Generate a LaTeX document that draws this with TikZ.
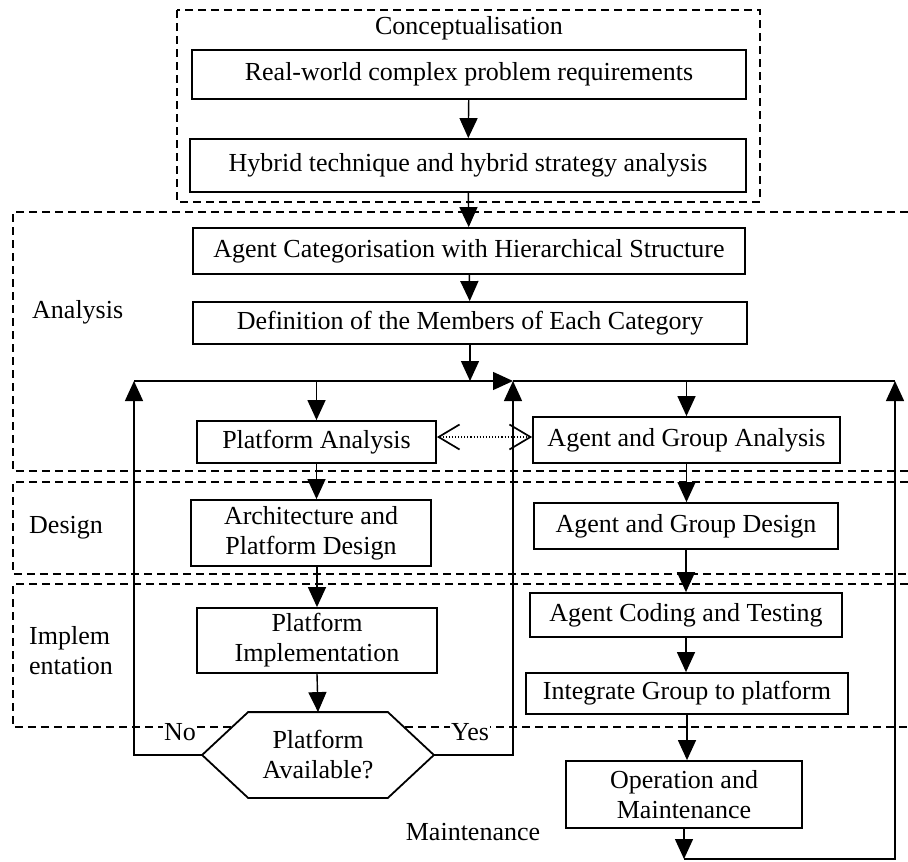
\documentclass[tikz,border=0pt]{standalone}
\usepackage{fontspec}
\setmainfont{Liberation Serif}
\usetikzlibrary{arrows.meta,backgrounds}

\tikzset{
  stepbox/.style={draw, line width=1.8pt, fill=white, inner sep=0pt, align=center,
    font=\fontsize{26}{30}\selectfont},
  lbl/.style={inner sep=1pt, align=left, font=\fontsize{26}{30}\selectfont},
  frame/.style={line width=1.4pt, dash pattern=on 8pt off 5pt},
  flow/.style={line width=1.4pt, -{Triangle[length=20pt,width=18pt]}},
  wire/.style={line width=1.4pt},
  peer/.style={line width=1.1pt, dotted,
    {Straight Barb[length=21pt,width=25pt,line width=1.7pt]}-{Straight Barb[length=21pt,width=25pt,line width=1.7pt]}},
}

\begin{document}
\begin{tikzpicture}[x=1pt,y=-1pt]
\useasboundingbox (0,0) rectangle (908,862);

% phase frames
\begin{scope}[on background layer]
  \draw[frame] (177,10) rectangle (760,202);
  \draw[frame] (908,212) -- (13,212) -- (13,471) -- (908,471);
  \draw[frame] (908,482) -- (13,482) -- (13,574) -- (908,574);
  \draw[frame] (908,584) -- (13,584) -- (13,727) -- (908,727);
\end{scope}

% phase labels
\node[lbl] (concept) at (469,28) {Conceptualisation};
\node[lbl, anchor=west] (analysis) at (31,312) {Analysis};
\node[lbl, anchor=west] (design) at (28,528) {Design};
\node[lbl, anchor=west] (impl) at (28,651) {Implem\\entation};
\node[lbl] (maint) at (473,832) {Maintenance};

% steps
\node[stepbox, minimum width=554pt, minimum height=49pt] (req)  at (469,74.5) {Real-world complex problem requirements};
\node[stepbox, minimum width=556pt, minimum height=53pt] (hyb)  at (468,165.5) {Hybrid technique and hybrid strategy analysis};
\node[stepbox, minimum width=552pt, minimum height=46pt] (acat) at (469,251) {Agent Categorisation with Hierarchical Structure};
\node[stepbox, minimum width=554pt, minimum height=42pt] (def)  at (470,323) {Definition of the Members of Each Category};
\node[stepbox, minimum width=239pt, minimum height=42pt] (pa)   at (316.5,442) {Platform Analysis};
\node[stepbox, minimum width=307pt, minimum height=46pt] (aga)  at (686.5,440) {Agent and Group Analysis};
\node[stepbox, minimum width=240pt, minimum height=66pt] (arch) at (311,533) {Architecture and\\Platform Design};
\node[stepbox, minimum width=304pt, minimum height=46pt] (agd)  at (686,526) {Agent and Group Design};
\node[stepbox, minimum width=240pt, minimum height=65pt] (pi)   at (317,640.5) {Platform\\Implementation};
\node[stepbox, minimum width=312pt, minimum height=44pt] (act)  at (686,615) {Agent Coding and Testing};
\node[stepbox, minimum width=322pt, minimum height=41pt] (igp)  at (687,693.5) {Integrate Group to platform};
\node[stepbox, minimum width=236pt, minimum height=67pt] (om)   at (684,794.5) {Operation and\\Maintenance};

% decision
\node[stepbox, draw=none, fill=none, minimum width=230pt, minimum height=84pt] (hex) at (318,755) {Platform\\Available?};
\begin{scope}[on background layer]
  \draw[line width=1.8pt, fill=white] (hex.west) -- ([xshift=46pt]hex.north west) -- ([xshift=-46pt]hex.north east)
    -- (hex.east) -- ([xshift=-46pt]hex.south east) -- ([xshift=46pt]hex.south west) -- cycle;
\end{scope}

% loop bus and return points
\coordinate (busL) at (134,381);
\coordinate (busM) at (513,381);
\coordinate (busR) at (895,381);
\coordinate (omEnd) at (684,859);
\coordinate (dotrow) at (0,437);

% main flow
\draw[flow] (req) -- (hyb);
\draw[flow] (hyb) -- (acat);
\draw[flow] (acat) -- (def);
\draw[flow] (def.south) -- (def.south |- busL);
\draw[flow] (busL) -- (busM);
\draw[wire] (busM) -- (busR);
\draw[flow] (pa.north |- busL) -- (pa.north);
\draw[flow] (aga.north |- busL) -- (aga.north);
\draw[flow] (pa.south) -- (pa.south |- arch.north);
\draw[flow] (pi.north |- arch.south) -- (pi.north);
\draw[flow] (pi.south) -- (hex.north);
\draw[flow] (aga.south) -- (aga.south |- agd.north);
\draw[flow] (agd.south) -- (agd.south |- act.north);
\draw[flow] (act.south) -- (act.south |- igp.north);
\draw[flow] (igp.south) -- (igp.south |- om.north);
\draw[flow] (om.south) -- (omEnd);

% feedback loops
\draw[flow] (hex.west) -- (hex.west -| busL) -- (busL);
\draw[flow] (hex.east) -- (hex.east -| busM) -- (busM);
\draw[flow] (omEnd) -- (omEnd -| busR) -- (busR);

% decision labels
\node[lbl, fill=white] (no) at (180,732) {No};
\node[lbl, fill=white] (yes) at (470,732) {Yes};

% analysis exchange
\draw[peer] (pa.east |- dotrow) -- (aga.west |- dotrow);
\end{tikzpicture}
\end{document}
